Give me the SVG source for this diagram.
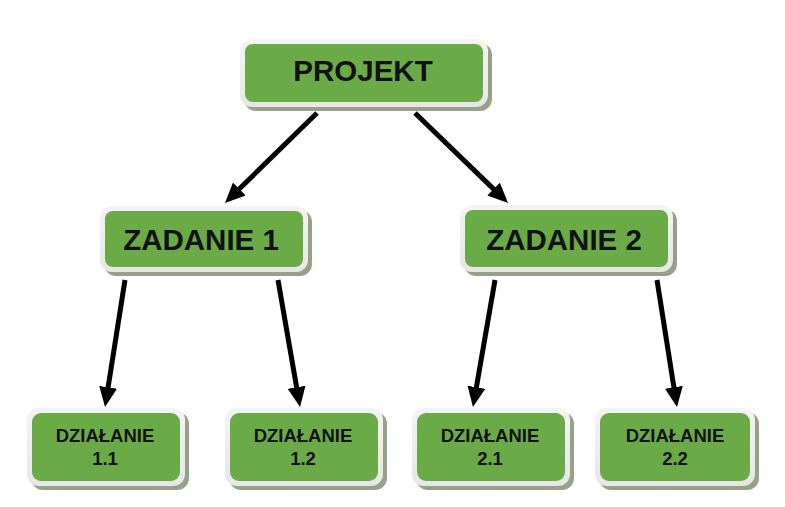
<svg xmlns="http://www.w3.org/2000/svg" width="785" height="507" viewBox="0 0 785 507">
<defs>
  <marker id="ah" markerUnits="userSpaceOnUse" markerWidth="20" markerHeight="18" refX="4" refY="9" orient="auto">
    <path d="M0,0 L20,9 L0,18 z" fill="#000"/>
  </marker>
  <linearGradient id="rim" x1="0" y1="0" x2="0" y2="1">
    <stop offset="0" stop-color="#f4f4f4"/>
    <stop offset="1" stop-color="#e6e6e6"/>
  </linearGradient>
</defs>
<style>
  .shadow { fill: #97a189; }
  .rim { fill: url(#rim); }
  .box { fill: #6bab47; }
  .t { font-family: "Liberation Sans", Arial, sans-serif; font-weight: bold; fill: #111; text-anchor: middle; }
  .big { font-size: 29.5px; }
  .small { font-size: 18.5px; }
  .conn line { stroke: #000; stroke-width: 5; marker-end: url(#ah); }
</style>
<rect width="785" height="507" fill="#fff"/>

<g id="connectors" class="conn">
  <line x1="317" y1="113" x2="236.4" y2="191.8"/>
  <line x1="415" y1="113" x2="496.5" y2="191.9"/>
  <line x1="125" y1="280" x2="107.5" y2="391.2"/>
  <line x1="278" y1="280" x2="297.3" y2="391.2"/>
  <line x1="495" y1="280" x2="475.7" y2="391.2"/>
  <line x1="657" y1="280" x2="674.5" y2="391.2"/>
</g>

<g id="projekt">
  <rect class="shadow" x="244" y="43" width="248" height="68" rx="12"/>
  <rect class="rim" x="240" y="39" width="248" height="68" rx="12"/>
  <rect class="box" x="245" y="44" width="238" height="58" rx="8"/>
  <text class="t big" x="363" y="81">PROJEKT</text>
</g>

<g id="zadanie1">
  <rect class="shadow" x="104" y="210" width="208" height="66" rx="12"/>
  <rect class="rim" x="100" y="206" width="208" height="66" rx="12"/>
  <rect class="box" x="105" y="211" width="198" height="56" rx="8"/>
  <text class="t big" x="201" y="250">ZADANIE 1</text>
</g>

<g id="zadanie2">
  <rect class="shadow" x="464" y="209" width="213" height="67" rx="12"/>
  <rect class="rim" x="460" y="205" width="213" height="67" rx="12"/>
  <rect class="box" x="465" y="210" width="203" height="57" rx="8"/>
  <text class="t big" x="564" y="250">ZADANIE 2</text>
</g>

<g id="dzialanie11">
  <rect class="shadow" x="31" y="412" width="158" height="78" rx="12"/>
  <rect class="rim" x="27" y="408" width="158" height="78" rx="12"/>
  <rect class="box" x="32" y="413" width="148" height="68" rx="9"/>
  <text class="t small" x="105" y="442">DZIAŁANIE</text>
  <text class="t small" x="105" y="465">1.1</text>
</g>

<g id="dzialanie12">
  <rect class="shadow" x="229" y="412" width="158" height="78" rx="12"/>
  <rect class="rim" x="225" y="408" width="158" height="78" rx="12"/>
  <rect class="box" x="230" y="413" width="148" height="68" rx="9"/>
  <text class="t small" x="303" y="442">DZIAŁANIE</text>
  <text class="t small" x="303" y="465">1.2</text>
</g>

<g id="dzialanie21">
  <rect class="shadow" x="416" y="412" width="158" height="78" rx="12"/>
  <rect class="rim" x="412" y="408" width="158" height="78" rx="12"/>
  <rect class="box" x="417" y="413" width="148" height="68" rx="9"/>
  <text class="t small" x="490" y="442">DZIAŁANIE</text>
  <text class="t small" x="490" y="465">2.1</text>
</g>

<g id="dzialanie22">
  <rect class="shadow" x="599" y="412" width="160" height="78" rx="12"/>
  <rect class="rim" x="595" y="408" width="160" height="78" rx="12"/>
  <rect class="box" x="600" y="413" width="150" height="68" rx="9"/>
  <text class="t small" x="675" y="442">DZIAŁANIE</text>
  <text class="t small" x="675" y="465">2.2</text>
</g>
</svg>
